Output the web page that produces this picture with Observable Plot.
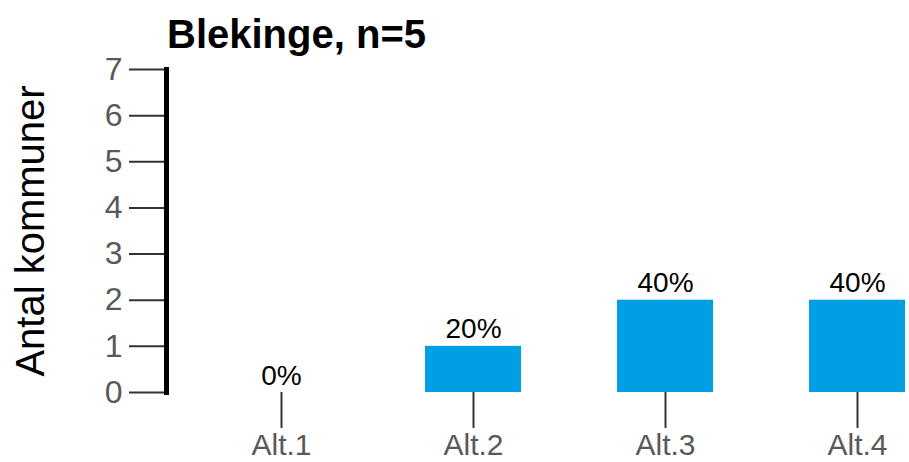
<!DOCTYPE html>
<html>
<head>
<meta charset="utf-8">
<script src="https://cdn.jsdelivr.net/npm/d3@7"></script>
<script src="https://cdn.jsdelivr.net/npm/@observablehq/plot@0.6"></script>
<style>
  html, body { margin: 0; padding: 0; background: #fff; }
  #wrap { width: 909px; height: 462px; position: relative; font-family: "Liberation Sans", Arial, sans-serif; }
  #title { position: absolute; left: 167px; top: 4px; height: 60px; line-height: 60px; font-size: 40px; font-weight: bold; color: #000; white-space: nowrap; z-index: 2; }
  svg { display: block; }
</style>
</head>
<body>
<div id="wrap">
  <div id="title"></div>
  <div id="chart"></div>
</div>
<script>
const titleText = "Blekinge, n=5";
const n = 5;
const categories = ["Alt.1", "Alt.2", "Alt.3", "Alt.4"];
const counts = [0, 1, 2, 2];
const yTicks = [0, 1, 2, 3, 4, 5, 6, 7];
const yLabel = "Antal kommuner";
const barColor = "#009fe3";

document.getElementById("title").textContent = titleText;

const data = categories.map((c, i) => ({
  cat: c,
  value: counts[i],
  pct: Math.round(counts[i] / n * 100) + "%"
}));

const chart = Plot.plot({
  width: 909,
  height: 462,
  marginTop: 69,
  marginBottom: 70,
  marginLeft: 166,
  marginRight: 0,
  style: { fontFamily: "Liberation Sans, Arial, sans-serif", background: "transparent", overflow: "visible" },
  x: { type: "band", domain: categories, range: [233, 905], paddingInner: 0.5, paddingOuter: 0, round: false },
  y: { domain: [0, 7] },
  marks: [
    Plot.barY(data, { x: "cat", y: "value", fill: barColor }),
    Plot.text(data, { x: "cat", y: "value", text: "pct", lineAnchor: "bottom", dy: -8, fontSize: 28, fill: "#000" }),
    Plot.axisY({
      ticks: yTicks, tickFormat: d => String(d), tickSize: 37, tickPadding: 7, fontSize: 32, color: "#595959",
      stroke: "#333", strokeWidth: 2, label: null
    }),
    Plot.axisY({
      ticks: [], tickSize: 0, fontSize: 40, fill: "#000",
      label: yLabel, labelAnchor: "center", labelArrow: "none", labelOffset: 151
    }),
    Plot.axisX({
      tickSize: 36, tickPadding: 5, fontSize: 30, color: "#595959", stroke: "#333", strokeWidth: 2, label: null
    }),
    Plot.frame({ anchor: "left", stroke: "#000", strokeWidth: 5 })
  ]
});
document.getElementById("chart").appendChild(chart);
</script>
</body>
</html>
